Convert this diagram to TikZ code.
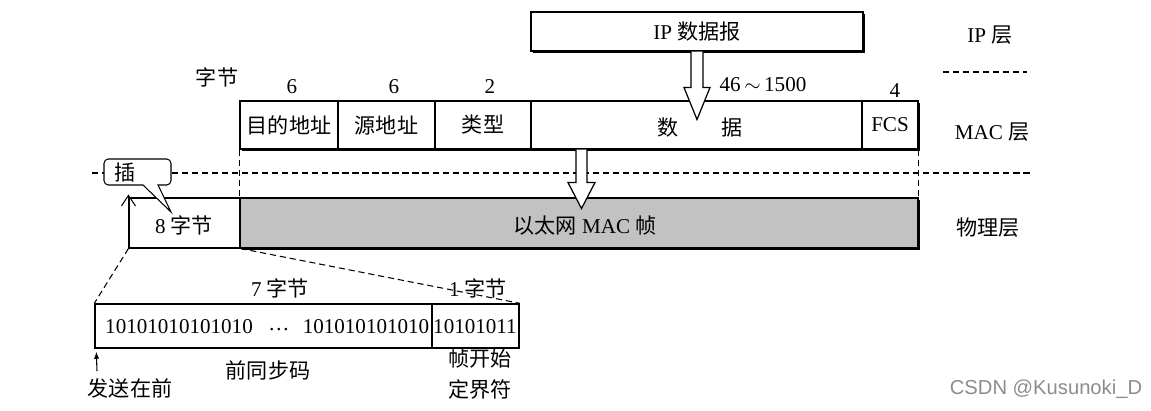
\documentclass[tikz,border=0pt]{standalone}
\usepackage{fontspec}
\setmainfont{Liberation Serif}
\newfontfamily\cjk{Noto Sans CJK SC}
\newfontfamily\wmfont{Liberation Sans}
\usetikzlibrary{fit,calc,arrows.meta,shadows}
\newcommand\zhc[1]{{\cjk #1}}
\begin{document}
\begin{tikzpicture}[x=0.02cm,y=-0.02cm,
  every node/.style={font=\fontsize{12}{14}\selectfont},
  box/.style={draw, fill=white, line width=0.6pt, inner sep=0pt},
  shbox/.style={box, drop shadow={shadow xshift=1pt, shadow yshift=-1pt, opacity=1, fill=black}},
  dsh/.style={dash pattern=on 3.5pt off 2.2pt, line width=0.6pt},
  hollow/.style={draw, fill=white, line width=0.7pt, line join=miter},
  lbl/.style={inner sep=0pt}]
\useasboundingbox (0,0) rectangle (1151,411);

% layer separators
\draw[dsh] (943,72) -- (1027,72);
\draw[dsh] (92,173) -- (1033,173);

% IP layer
\node[shbox, fit={(531,12)(863,51)}] (ip) {};
\node[lbl] (iplbl) at (ip.center) {IP \zhc{数据报}};

% byte counts
\node[lbl] (zj) at (217,77) {\zhc{字节}};
\node[lbl] (n1) at (292,87) {6};
\node[lbl] (n2) at (394,87) {6};
\node[lbl] (n3) at (490,87) {2};
\node[lbl] (n4) at (763,85) {46\,$\sim$\,1500};
\node[lbl] (n5) at (895,91) {4};

% MAC frame
\node[shbox, fit={(240,101)(338,149)}] (dst) {};
\node[shbox, fit={(338,101)(435,149)}] (src) {};
\node[shbox, fit={(435,101)(531,149)}] (typ) {};
\node[shbox, fit={(531,101)(862,149)}] (dat) {};
\node[shbox, fit={(862,101)(918,149)}] (fcs) {};
\node[lbl] (dstl) at (dst.center) {\zhc{目的地址}};
\node[lbl] (srcl) at (src.center) {\zhc{源地址}};
\node[lbl] (typl) at (typ.center) {\zhc{类型}};
\node[lbl] (datl) at (700,128) {\zhc{数\hspace{2em}据}};
\node[lbl] (fcsl) at (fcs.center) {FCS};

% IP -> data arrow
\coordinate (a1) at (ip.south);
\draw[hollow] ($(a1)+(-6,0)$) -- ($(a1)+(-6,36)$) -- ($(a1)+(-13,36)$) -- ($(a1)+(0,68)$)
  -- ($(a1)+(13,36)$) -- ($(a1)+(6,36)$) -- ($(a1)+(6,0)$);

% physical layer
\node[box, fit={(129,198)(240,248)}] (pre8) {};
\node[shbox, fill=black!24, fit={(240,198)(918,248)}] (frame) {};
\node[lbl] (pre8l) at (184,225) {8 \zhc{字节}};
\node[lbl] (framel) at (585,226) {\zhc{以太网} MAC \zhc{帧}};

\draw[dsh] (dst.south west) -- (frame.north west);
\draw[dsh] (fcs.south east) -- (frame.north east);

% MAC -> physical arrow
\coordinate (a2) at ($(dat.south west)+(51,0)$);
\draw[hollow] ($(a2)+(-5.5,0)$) -- ($(a2)+(-5.5,33)$) -- ($(a2)+(-13.5,33)$) -- ($(a2)+(0,59)$)
  -- ($(a2)+(13.5,33)$) -- ($(a2)+(5.5,33)$) -- ($(a2)+(5.5,0)$);

% insert arrow on left edge
\draw[line width=0.6pt, -{Straight Barb[length=6pt,width=8pt]}] (pre8.south west) -- ($(pre8.north west)+(0,-3)$);

% bubble
\draw[line width=0.6pt, fill=white] (143,185) [rounded corners=2.5pt] -- (104,185) -- (104,159) -- (171,159) -- (171,185) [sharp corners] -- (158,185) -- (171,212) -- cycle;
\node[lbl] (cha) at (125,173) {\zhc{插}};

% layer labels
\node[lbl] (lip) at (990,35) {IP \zhc{层}};
\node[lbl] (lmac) at (992,132) {MAC \zhc{层}};
\node[lbl] (lphy) at (988,228) {\zhc{物理层}};

% preamble detail
\node[box, line width=0.8pt, fit={(95,304)(432,348)}] (pre) {};
\node[box, line width=0.8pt, fit={(432,304)(519,348)}] (sfd) {};
\draw[dsh] (pre8.south west) -- (pre.north west);
\draw[dsh] (pre8.south east) -- (sfd.north east);
\node[lbl] (b1) at (179,327) {10101010101010};
\node[lbl] (bd) at (279,330) {\dots};
\node[lbl] (b2) at (366,327) {101010101010};
\node[lbl] (b3) at (475,327) {10101011};
\node[lbl] (z7) at (280,288) {7 \zhc{字节}};
\node[lbl] (z1) at (478,288) {1 \zhc{字节}};
\node[lbl] (tq) at (268,370) {\zhc{前同步码}};
\node[lbl, align=center, font=\fontsize{12}{18}\selectfont] (sfdl) at (480,374) {\zhc{帧开始}\\\zhc{定界符}};
\coordinate (snd) at (97,371);
\draw[line width=0.6pt, -{Latex[length=4pt,width=3pt]}] (snd) -- ($(pre.south west)+(2,3)$);
\node[lbl] (sndl) at (130,388) {\zhc{发送在前}};

% watermark
\node[lbl, text=black!45, font=\wmfont\fontsize{11.5}{13}\selectfont] (wm) at (1046,389) {CSDN @Kusunoki\_D};
\end{tikzpicture}
\end{document}
